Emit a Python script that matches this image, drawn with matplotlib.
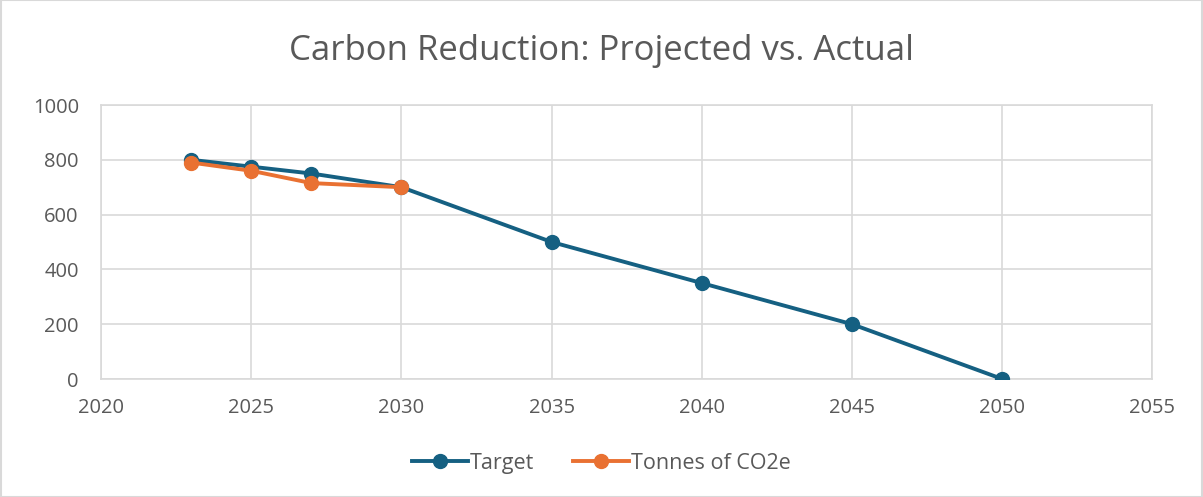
import matplotlib.pyplot as plt
from matplotlib.patches import Rectangle

# Chart data
target_years = [2023, 2025, 2027, 2030, 2035, 2040, 2045, 2050]
target_values = [800, 775, 750, 700, 500, 350, 200, 0]
actual_years = [2023, 2025, 2027, 2030]
actual_values = [790, 760, 715, 700]

blue = '#156082'
orange = '#E97132'
grid_gray = '#D9D9D9'
text_gray = '#595959'

plt.rcParams['font.family'] = ['Open Sans', 'DejaVu Sans']

fig = plt.figure(figsize=(12.03, 4.97), dpi=100)
ax = fig.add_axes([0.084, 0.2374, 0.874, 0.5513])

ax.plot(target_years, target_values, color=blue, lw=2.8, marker='o',
        markersize=10, label='Target', zorder=3)
ax.plot(actual_years, actual_values, color=orange, lw=2.8, marker='o',
        markersize=10, label='Tonnes of CO2e', zorder=4)

ax.set_xlim(2020, 2055)
ax.set_ylim(0, 1000)
ax.set_xticks(range(2020, 2056, 5))
ax.set_yticks(range(0, 1001, 200))
ax.grid(True, color=grid_gray, lw=1.2)
ax.set_axisbelow(True)
for s in ax.spines.values():
    s.set_color(grid_gray)
    s.set_linewidth(1.2)
ax.tick_params(length=0, labelsize=14.5, labelcolor=text_gray)
ax.tick_params(axis='x', pad=14)
ax.tick_params(axis='y', pad=16)

fig.text(0.5, 0.897, 'Carbon Reduction: Projected vs. Actual', ha='center',
         va='center', fontsize=25, color=text_gray)

fig.legend(loc='center', bbox_to_anchor=(0.5, 0.068), ncol=2, frameon=False,
           fontsize=15.5, labelcolor=text_gray, handlelength=2.6,
           handletextpad=0.1, columnspacing=1.8)

fig.patches.append(Rectangle((0.001, 0.001), 0.998, 0.998, transform=fig.transFigure,
                             fill=False, edgecolor=grid_gray, lw=1.5))

fig.savefig('out.png', dpi=100)
